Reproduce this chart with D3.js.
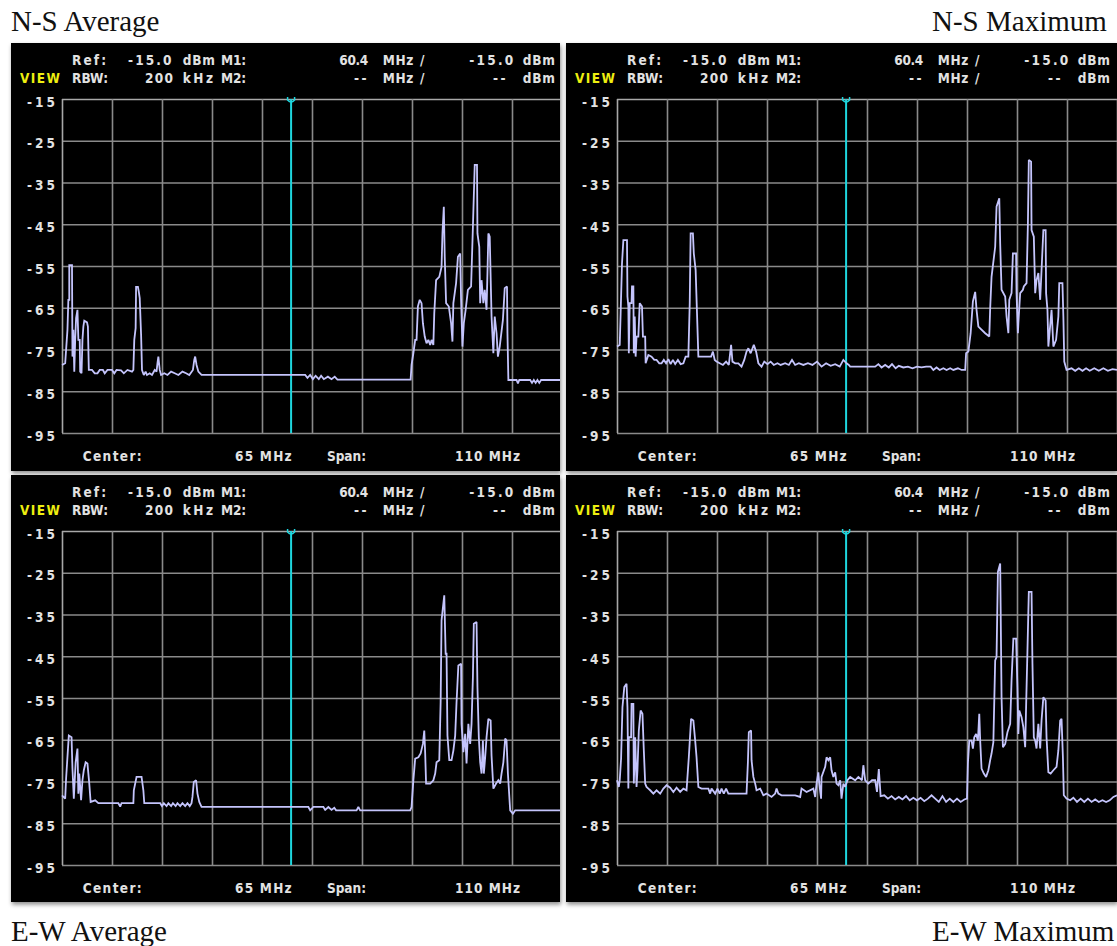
<!DOCTYPE html>
<html>
<head>
<meta charset="utf-8">
<script src="https://cdn.jsdelivr.net/npm/d3@7"></script>
<style>
  html, body { margin: 0; padding: 0; background: #fff; }
  svg { display: block; }
  .lcd { font-family: "DejaVu Sans Condensed", "DejaVu Sans", "Liberation Sans", sans-serif; font-weight: bold; font-size: 13.5px; fill: #e2e2e2; }
  .title { font-family: "Liberation Serif", "DejaVu Serif", serif; font-size: 29px; fill: #111; }
</style>
</head>
<body>
<svg id="chart" width="1117" height="946"></svg>
<script>
// ---------------- data ----------------
const panelTitles = ["N-S Average", "N-S Maximum", "E-W Average", "E-W Maximum"];
const dbTicks = [-15, -25, -35, -45, -55, -65, -75, -85, -95];
const centerMHz = 65;
const spanMHz = 110;
const refLevelDbm = -15.0;
const rbwKHz = 200;
const marker1MHz = 60.4;
const marker1Dbm = -15.0;

// trace vertices: [frequency MHz, level dBm]
const nsAverage = [
  [10.0,-78.7],[10.7,-78.3],[10.9,-75.1],[11.2,-70.3],[11.4,-63.1],[11.6,-63.1],[11.6,-54.8],[12.2,-54.8],
  [12.3,-76.7],[12.5,-70.3],[12.7,-80.3],[12.9,-72.7],[13.1,-67.5],[13.4,-65.5],[13.6,-72.7],[13.9,-72.7],
  [14.0,-80.3],[14.3,-80.7],[14.5,-72.7],[14.7,-69.5],[14.9,-68.1],[15.5,-68.5],[15.7,-69.5],[15.9,-79.9],
  [16.6,-79.9],[17.2,-80.7],[17.8,-80.7],[18.3,-79.9],[19.0,-79.9],[19.4,-80.7],[20.0,-79.9],[21.0,-79.9],
  [21.5,-80.7],[22.0,-79.9],[23.0,-80.0],[23.6,-80.7],[24.4,-79.9],[25.4,-80.3],[25.7,-79.9],[25.9,-72.7],
  [26.2,-69.9],[26.3,-60.0],[26.7,-60.0],[26.9,-61.2],[27.1,-62.7],[27.4,-71.5],[27.6,-79.9],[28.0,-81.1],
  [28.4,-80.3],[28.7,-81.1],[29.3,-80.7],[29.8,-81.1],[30.4,-79.9],[30.8,-80.3],[31.0,-78.3],[31.2,-76.7],
  [31.5,-79.9],[31.8,-81.1],[32.5,-80.7],[33.2,-81.1],[34.0,-80.3],[34.8,-80.7],[35.6,-81.1],[36.5,-80.3],
  [37.3,-80.7],[38.0,-81.1],[38.8,-79.9],[39.1,-77.5],[39.3,-76.7],[39.6,-78.7],[40.0,-80.3],[40.7,-81.1],
  [63.5,-81.1],[64.0,-81.8],[64.6,-81.1],[65.2,-82.1],[65.8,-81.3],[66.5,-82.1],[67.0,-81.3],[67.6,-82.1],
  [68.5,-81.5],[69.3,-82.1],[70.0,-81.5],[70.6,-82.2],[86.7,-82.2],[86.9,-78.7],[87.3,-75.9],[87.7,-72.7],
  [88.0,-72.7],[88.3,-64.7],[88.7,-63.1],[89.1,-63.9],[89.4,-68.7],[89.8,-71.9],[90.2,-73.5],[90.6,-72.7],
  [91.0,-73.9],[91.3,-72.7],[91.7,-73.9],[91.9,-66.3],[92.3,-58.4],[93.0,-57.6],[93.5,-55.2],[93.7,-47.2],
  [94.0,-40.8],[94.2,-52.8],[94.5,-63.9],[95.1,-64.7],[95.6,-68.7],[95.9,-73.1],[96.1,-63.9],[96.7,-59.1],
  [97.1,-52.8],[97.6,-52.0],[97.8,-63.1],[98.1,-74.3],[98.4,-68.7],[98.8,-65.5],[99.3,-60.7],[100.0,-59.9],
  [100.4,-45.6],[100.8,-30.8],[101.3,-30.8],[101.4,-47.2],[101.8,-50.4],[102.0,-63.9],[102.3,-58.4],[102.7,-63.9],
  [103.0,-60.7],[103.4,-65.5],[103.6,-56.7],[103.8,-47.2],[104.1,-48.0],[104.5,-67.1],[104.9,-75.9],[105.2,-67.1],
  [105.6,-71.1],[105.9,-76.7],[106.3,-74.3],[107.0,-67.9],[107.4,-60.3],[107.9,-59.9],[108.0,-71.1],[108.2,-82.3],
  [110.0,-82.3],[110.3,-83.1],[110.6,-82.3],[113.0,-82.3],[113.4,-83.0],[113.8,-82.3],[114.2,-83.0],[114.6,-82.3],
  [115.0,-83.0],[115.4,-82.3],[120.0,-82.3]
];

const nsMaximum = [
  [10.0,-74.3],[10.6,-73.9],[10.8,-66.3],[11.1,-54.4],[11.4,-48.8],[12.2,-48.8],[12.3,-62.3],[12.5,-64.7],
  [12.6,-75.9],[12.8,-63.9],[13.2,-63.9],[13.3,-59.9],[13.6,-59.9],[13.7,-75.9],[13.9,-67.1],[14.1,-76.7],
  [14.3,-71.9],[14.7,-71.9],[15.0,-63.9],[15.5,-64.7],[15.7,-71.9],[16.2,-71.9],[16.3,-78.3],[16.9,-76.3],
  [17.6,-76.7],[18.2,-77.5],[18.7,-77.5],[19.3,-78.3],[19.8,-78.3],[20.3,-77.5],[20.8,-78.3],[21.3,-77.3],
  [21.8,-78.5],[22.3,-77.5],[22.8,-78.5],[23.4,-77.5],[24.0,-78.5],[24.6,-78.3],[25.1,-76.7],[25.7,-76.7],
  [26.0,-63.9],[26.2,-47.2],[26.7,-47.2],[26.9,-52.0],[27.3,-56.0],[27.6,-66.3],[27.9,-76.7],[30.7,-76.7],
  [31.1,-75.5],[31.5,-77.5],[31.9,-77.9],[32.6,-78.3],[33.3,-78.7],[34.0,-77.9],[34.6,-78.7],[35.1,-73.9],
  [35.4,-77.9],[36.0,-78.3],[36.7,-78.3],[37.4,-79.1],[38.0,-77.5],[38.5,-75.5],[38.9,-74.7],[39.4,-75.9],
  [40.1,-73.9],[40.6,-75.5],[41.1,-78.3],[41.8,-79.1],[42.4,-77.9],[43.1,-78.5],[43.8,-77.9],[44.5,-78.7],
  [45.3,-78.3],[46.0,-78.7],[47.0,-78.3],[47.8,-78.7],[48.5,-77.5],[49.2,-78.7],[50.0,-78.3],[51.0,-78.7],
  [52.0,-78.3],[53.0,-78.7],[54.0,-77.9],[55.0,-79.1],[56.0,-78.3],[57.0,-78.9],[58.0,-78.5],[59.0,-79.1],
  [59.8,-77.5],[60.5,-78.3],[61.0,-78.7],[61.3,-79.1],[66.8,-79.1],[67.5,-78.5],[68.2,-79.3],[69.0,-78.7],
  [69.8,-79.3],[70.5,-78.5],[71.3,-79.5],[72.0,-78.9],[73.0,-79.3],[74.0,-79.1],[75.0,-79.5],[76.0,-79.1],
  [77.0,-79.3],[78.0,-79.1],[79.0,-79.1],[79.6,-79.9],[80.3,-79.3],[81.0,-79.9],[81.8,-79.5],[82.5,-79.9],
  [83.3,-79.5],[84.0,-79.9],[85.0,-79.5],[85.8,-79.9],[86.6,-79.9],[86.8,-75.9],[87.3,-75.5],[87.8,-71.1],
  [88.3,-63.5],[88.8,-61.2],[89.1,-65.5],[89.5,-69.5],[91.0,-71.1],[91.9,-71.9],[92.1,-65.1],[92.4,-57.6],
  [93.2,-50.4],[93.5,-40.8],[94.1,-38.8],[94.3,-49.6],[94.6,-60.7],[95.4,-62.3],[95.7,-67.1],[96.1,-71.1],
  [96.3,-63.1],[96.8,-61.5],[97.1,-52.0],[97.8,-52.0],[97.9,-61.5],[98.2,-71.1],[98.3,-68.7],[98.7,-61.5],
  [99.3,-60.7],[99.5,-59.9],[100.1,-59.1],[100.4,-44.8],[100.6,-29.6],[101.1,-30.0],[101.2,-46.4],[101.7,-48.0],
  [102.0,-61.5],[102.3,-58.4],[102.7,-56.7],[103.1,-63.1],[103.4,-56.0],[103.8,-46.4],[104.3,-46.4],[104.4,-61.5],
  [104.7,-65.5],[104.9,-74.3],[105.6,-65.5],[106.0,-74.3],[106.6,-72.7],[107.1,-67.1],[107.3,-59.1],[108.0,-59.1],
  [108.2,-67.1],[108.4,-77.9],[108.9,-79.9],[110.0,-79.5],[110.8,-80.1],[111.6,-79.5],[112.4,-80.1],[113.2,-79.5],
  [114.0,-80.1],[115.0,-79.5],[116.0,-80.1],[117.0,-79.5],[118.0,-80.1],[119.0,-79.7],[120.0,-79.9]
];

const ewAverage = [
  [10.0,-78.3],[10.7,-79.1],[10.9,-74.3],[11.5,-64.0],[12.1,-64.4],[12.3,-71.9],[12.6,-79.1],[13.0,-70.4],
  [13.4,-67.1],[13.6,-77.9],[13.8,-73.1],[14.2,-79.5],[14.5,-74.7],[14.8,-72.3],[15.2,-70.4],[15.6,-70.7],
  [16.0,-75.5],[16.3,-79.9],[17.3,-79.5],[18.0,-80.2],[22.4,-80.2],[22.8,-81.0],[23.1,-80.2],[25.7,-80.2],
  [25.8,-77.1],[26.4,-73.9],[27.5,-73.9],[27.9,-77.1],[28.1,-80.2],[31.6,-80.2],[32.0,-80.9],[32.4,-80.2],
  [33.0,-80.9],[33.4,-80.2],[34.0,-80.9],[34.4,-80.2],[35.0,-80.9],[35.4,-80.2],[36.0,-80.9],[36.5,-80.2],
  [37.1,-80.9],[37.6,-80.2],[38.1,-80.9],[38.5,-80.2],[38.7,-78.7],[39.0,-75.1],[39.5,-74.7],[39.8,-77.9],
  [40.2,-79.9],[40.7,-81.1],[64.2,-81.1],[64.6,-81.9],[65.3,-81.1],[67.5,-81.1],[67.9,-81.8],[68.6,-81.1],
  [69.3,-81.8],[69.9,-81.3],[70.3,-81.9],[74.8,-81.9],[75.2,-81.1],[75.6,-81.9],[86.6,-81.9],[86.9,-81.1],
  [87.3,-74.7],[87.7,-69.5],[88.4,-69.2],[88.9,-68.3],[89.4,-66.0],[89.7,-62.8],[89.9,-68.3],[90.1,-75.5],
  [91.0,-75.5],[91.7,-74.7],[92.1,-73.1],[92.4,-70.4],[93.0,-69.9],[93.3,-56.0],[93.5,-36.4],[94.1,-30.4],
  [94.4,-44.4],[94.6,-44.4],[94.8,-64.0],[95.2,-69.9],[95.7,-69.9],[96.1,-67.6],[96.5,-64.0],[96.8,-56.0],
  [97.2,-47.2],[97.8,-46.8],[97.9,-61.2],[98.3,-68.0],[98.7,-63.6],[99.0,-70.7],[99.4,-61.2],[99.8,-66.0],
  [100.1,-61.2],[100.4,-50.0],[100.6,-37.2],[101.2,-36.8],[101.4,-52.4],[101.7,-64.4],[102.0,-70.4],[102.3,-73.1],
  [102.6,-65.2],[102.8,-73.1],[103.1,-69.2],[103.4,-64.4],[103.8,-60.0],[104.3,-60.4],[104.5,-68.8],[104.9,-76.7],
  [105.5,-75.5],[106.0,-74.7],[106.4,-75.5],[106.7,-73.1],[107.1,-70.4],[107.5,-64.7],[107.8,-65.2],[108.1,-73.1],
  [108.6,-81.9],[109.2,-82.7],[109.7,-81.9],[120.0,-81.9]
];

const ewMaximum = [
  [10.0,-74.7],[10.4,-76.3],[10.6,-74.7],[10.9,-69.5],[11.2,-57.2],[11.6,-52.4],[12.1,-51.6],[12.3,-57.2],
  [12.5,-76.7],[12.6,-64.4],[13.1,-64.4],[13.2,-56.4],[13.6,-56.4],[13.7,-75.5],[14.0,-64.4],[14.2,-72.3],
  [14.3,-76.3],[14.5,-72.3],[14.8,-62.8],[15.2,-58.0],[15.6,-58.8],[15.9,-67.5],[16.2,-75.5],[16.5,-76.3],
  [16.9,-76.7],[17.3,-77.1],[18.0,-77.9],[18.7,-77.1],[19.5,-77.9],[20.2,-76.7],[20.9,-75.9],[21.7,-76.5],
  [22.4,-77.5],[23.1,-76.5],[23.9,-77.5],[24.6,-76.7],[25.3,-77.1],[25.8,-69.2],[26.3,-60.0],[26.8,-60.4],
  [27.2,-65.2],[27.5,-69.2],[27.9,-76.3],[28.6,-76.7],[30.1,-76.7],[30.5,-77.9],[30.8,-76.7],[31.6,-77.9],
  [32.1,-76.7],[32.6,-77.9],[33.0,-76.7],[33.5,-77.9],[34.0,-76.7],[34.5,-77.9],[38.5,-77.9],[38.8,-70.4],
  [39.0,-63.2],[39.5,-62.8],[39.6,-69.9],[40.0,-73.9],[40.4,-75.5],[40.7,-77.1],[41.5,-76.7],[42.2,-78.3],
  [42.9,-77.9],[44.0,-78.7],[44.8,-77.9],[45.1,-76.7],[45.5,-77.9],[46.2,-78.3],[49.2,-78.3],[50.3,-78.7],
  [50.6,-76.7],[51.7,-77.5],[53.2,-76.7],[53.6,-78.7],[53.9,-75.5],[54.3,-72.8],[54.5,-75.5],[54.9,-79.1],
  [55.0,-73.9],[55.8,-71.5],[56.1,-69.2],[56.5,-69.9],[56.9,-69.2],[57.2,-72.3],[57.6,-73.9],[58.0,-72.8],
  [58.3,-75.5],[58.7,-75.9],[59.1,-74.7],[59.4,-79.1],[59.8,-75.5],[60.2,-76.3],[60.7,-74.7],[61.3,-73.9],
  [62.4,-74.7],[63.1,-73.9],[63.9,-74.7],[64.2,-71.1],[64.6,-74.7],[65.3,-75.5],[66.1,-74.7],[66.8,-74.7],
  [67.2,-77.5],[67.6,-72.0],[68.0,-78.5],[68.8,-78.3],[69.6,-79.1],[70.4,-78.5],[71.2,-79.3],[72.0,-78.7],
  [72.8,-79.3],[73.6,-78.5],[74.4,-79.5],[75.2,-78.9],[76.0,-79.5],[76.8,-78.9],[77.6,-79.7],[78.4,-79.1],
  [79.2,-78.3],[80.0,-79.1],[80.8,-79.9],[81.6,-78.5],[82.4,-79.9],[83.2,-79.1],[84.0,-79.9],[84.8,-79.1],
  [85.6,-79.9],[86.4,-79.3],[87.0,-79.1],[87.2,-70.7],[87.5,-65.2],[88.0,-65.2],[88.3,-67.1],[88.6,-64.4],
  [89.0,-63.6],[89.4,-65.2],[89.7,-58.8],[89.9,-65.2],[90.2,-71.9],[90.7,-73.1],[91.2,-73.9],[91.7,-72.3],
  [92.1,-69.9],[92.4,-68.3],[92.8,-65.6],[93.2,-46.0],[93.5,-45.2],[93.8,-24.8],[94.3,-22.8],[94.4,-33.2],
  [94.6,-54.8],[94.9,-66.8],[95.4,-66.0],[95.9,-63.2],[96.5,-61.2],[96.8,-50.8],[97.2,-40.8],[97.8,-40.8],
  [98.1,-52.4],[98.3,-63.6],[98.5,-58.0],[99.0,-59.6],[99.4,-62.0],[99.8,-66.8],[100.0,-57.2],[100.3,-43.6],
  [100.6,-29.6],[101.2,-29.6],[101.4,-46.8],[101.7,-64.4],[102.0,-65.2],[102.3,-67.1],[102.7,-61.2],[103.1,-67.1],
  [103.4,-60.4],[103.8,-54.8],[104.3,-55.6],[104.5,-64.4],[104.9,-72.8],[105.4,-73.1],[106.0,-72.3],[106.7,-71.5],
  [107.1,-67.5],[107.5,-60.4],[107.8,-60.0],[108.1,-69.2],[108.3,-78.3],[108.9,-79.1],[109.7,-79.5],[110.4,-78.9],
  [111.2,-79.9],[112.0,-79.1],[112.8,-79.9],[113.6,-79.1],[114.4,-79.9],[115.2,-79.3],[116.0,-79.9],[116.8,-79.5],
  [117.6,-79.9],[118.4,-79.5],[119.2,-78.7],[120.0,-78.3]
];

const traces = [nsAverage, nsMaximum, ewAverage, ewMaximum];

// ---------------- layout ----------------
const PLOT_W = 500, PLOT_H = 334;
const PLOT_X = 51, PLOT_Y = 56;          // plot area offset inside a panel
const panelBoxes = [
  { x: 11,  y: 43,  w: 549, h: 428 },
  { x: 566, y: 43,  w: 551, h: 428 },
  { x: 11,  y: 475, w: 549, h: 427 },
  { x: 566, y: 475, w: 551, h: 427 }
];
const titlePos = [
  { x: 11,  y: 31 },
  { x: 932, y: 31 },
  { x: 11,  y: 941 },
  { x: 932, y: 941 }
];

const startMHz = centerMHz - spanMHz / 2;
const stopMHz = centerMHz + spanMHz / 2;
const freqTicks = d3.range(0, 11).map(i => startMHz + i * spanMHz / 10);

const x = d3.scaleLinear().domain([startMHz, stopMHz]).range([0, PLOT_W]);
const y = d3.scaleLinear().domain([dbTicks[0], dbTicks[dbTicks.length - 1]]).range([0, PLOT_H]);

const svg = d3.select("#chart");
const defs = svg.append("defs");
const shadow = defs.append("filter").attr("id", "panelShadow")
  .attr("x", "-3%").attr("y", "-3%").attr("width", "106%").attr("height", "106%");
shadow.append("feDropShadow").attr("dx", 1).attr("dy", 2.5).attr("stdDeviation", 2.2)
  .attr("flood-color", "#000").attr("flood-opacity", 0.45);

defs.append("clipPath").attr("id", "plotClip")
  .append("rect").attr("x", -1).attr("y", -1).attr("width", PLOT_W + 2).attr("height", PLOT_H + 2);

const fmt1 = d3.format(".1f");
const dbStr = v => fmt1(v).replace("\u2212", "-");

// place a text token at a left x with a fixed run width
function token(g, str, tx, ty, len, color) {
  const t = g.append("text").attr("class", "lcd").attr("x", tx).attr("y", ty).text(str);
  if (len) t.attr("textLength", len).attr("lengthAdjust", "spacing");
  if (color) t.style("fill", color);
  return t;
}

const line = d3.line().x(d => x(d[0])).y(d => y(d[1]));

panelBoxes.forEach((b, i) => {
  // panel clip so nothing spills into the gaps
  defs.append("clipPath").attr("id", "panelClip" + i)
    .append("rect").attr("x", 0).attr("y", 0).attr("width", b.w).attr("height", b.h);

  svg.append("rect").attr("x", b.x).attr("y", b.y).attr("width", b.w).attr("height", b.h)
    .attr("fill", "#000").attr("filter", "url(#panelShadow)");

  const p = svg.append("g").attr("transform", `translate(${b.x},${b.y})`)
    .attr("clip-path", `url(#panelClip${i})`);

  // header
  token(p, "Ref:", 61, 22, 34);
  token(p, dbStr(refLevelDbm), 117, 22, 43.5);
  token(p, "dBm", 171.7, 22, 32.3);
  token(p, "M1:", 210, 22, 25);
  token(p, fmt1(marker1MHz), 328.3, 22, 29);
  token(p, "MHz", 371.7, 22, 30.6);
  token(p, "/", 409, 22);
  token(p, dbStr(marker1Dbm), 458.3, 22, 44);
  token(p, "dBm", 511.7, 22, 32.3);

  token(p, "VIEW", 9, 40, 40, "#eeee10");
  token(p, "RBW:", 61, 40, 36);
  token(p, String(rbwKHz), 134, 40, 28);
  token(p, "kHz", 171.7, 40, 30.3);
  token(p, "M2:", 210, 40, 25);
  token(p, "--", 343, 40).style("letter-spacing", "2.5px");
  token(p, "MHz", 371.7, 40, 30.6);
  token(p, "/", 409, 40);
  token(p, "--", 482, 40).style("letter-spacing", "2.5px");
  token(p, "dBm", 511.7, 40, 32.3);

  // footer
  const fy = PLOT_Y + PLOT_H + 28;
  token(p, "Center:", 71.7, fy, 59);
  token(p, centerMHz + " MHz", 224, fy, 56.7);
  token(p, "Span:", 316, fy, 39);
  token(p, spanMHz + " MHz", 444, fy, 65);

  const plot = p.append("g").attr("transform", `translate(${PLOT_X},${PLOT_Y})`);

  // grid
  const gy = plot.append("g").call(d3.axisLeft(y).tickValues(dbTicks).tickSize(-PLOT_W).tickFormat(""));
  const gx = plot.append("g").call(d3.axisTop(x).tickValues(freqTicks).tickSize(-PLOT_H).tickFormat(""));
  [gy, gx].forEach(g => {
    g.select(".domain").remove();
    g.selectAll("line").attr("stroke", "#8a8a8a").attr("stroke-width", 1.6);
  });
  // plot frame edges (left and top)
  gy.selectAll(".tick").filter(d => d === dbTicks[0]).select("line").attr("stroke", "#a8a8a8");
  gx.selectAll(".tick").filter(d => d === startMHz).select("line").attr("stroke", "#a8a8a8");

  // level labels
  const ly = plot.append("g").attr("transform", "translate(-7,0)")
    .call(d3.axisLeft(y).tickValues(dbTicks).tickSize(0).tickPadding(0).tickFormat(d => String(d)));
  ly.select(".domain").remove();
  ly.attr("font-size", null).attr("font-family", null);
  ly.selectAll("text").attr("class", "lcd").attr("dy", null).attr("y", 7)
    .attr("fill", null)
    .attr("textLength", 28).attr("lengthAdjust", "spacing");

  // marker M1
  const mx = x(marker1MHz);
  plot.append("line").attr("x1", mx).attr("x2", mx).attr("y1", 0).attr("y2", PLOT_H)
    .attr("stroke", "#1ed6de").attr("stroke-width", 2);
  plot.append("path")
    .attr("d", `M${mx - 3.5},-2 L${mx - 3.5},1 Q${mx},5 ${mx + 3.5},1 L${mx + 3.5},-2`)
    .attr("fill", "none").attr("stroke", "#1ed6de").attr("stroke-width", 1.5);

  // trace
  plot.append("path").datum(traces[i])
    .attr("clip-path", "url(#plotClip)")
    .attr("d", line)
    .attr("fill", "none").attr("stroke", "#c4c4fc").attr("stroke-width", 1.8)
    .attr("stroke-linejoin", "miter").attr("stroke-miterlimit", 2);
});

// panel captions
panelTitles.forEach((t, i) => {
  svg.append("text").attr("class", "title").attr("x", titlePos[i].x).attr("y", titlePos[i].y).text(t);
});
</script>
</body>
</html>
